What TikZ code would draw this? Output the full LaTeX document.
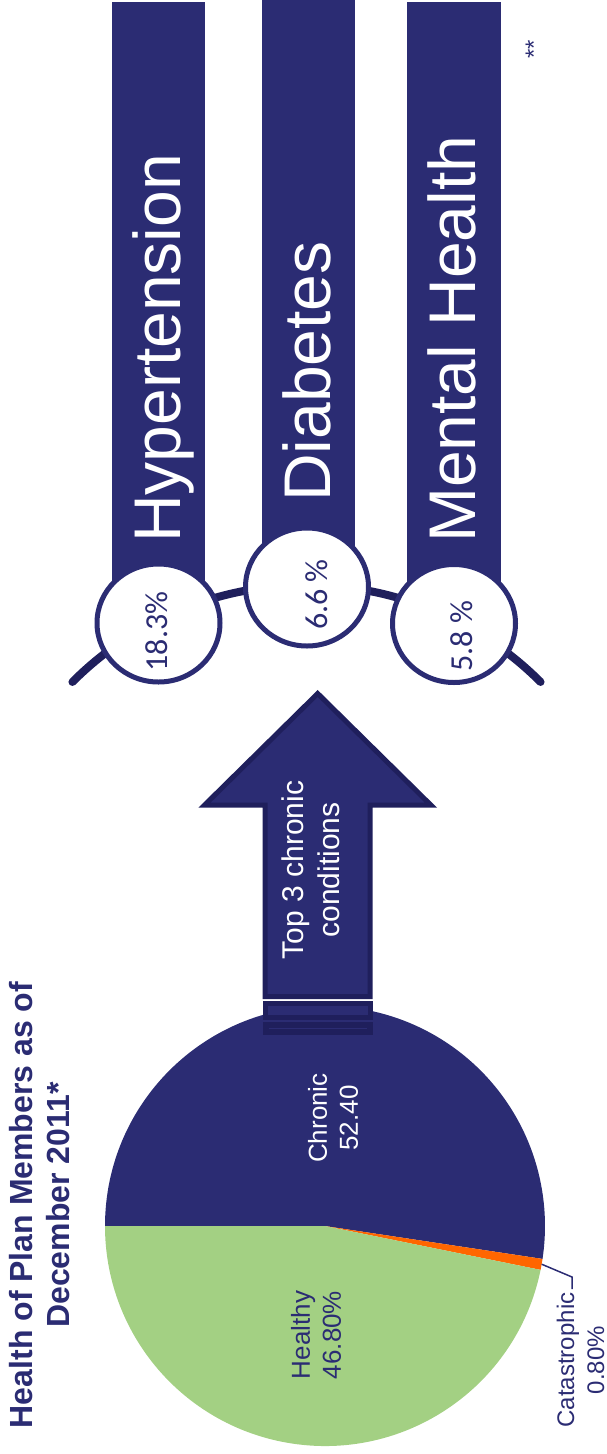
\documentclass[tikz,border=0pt]{standalone}
\usepackage{fontspec}
\setmainfont{Liberation Sans}
\newfontfamily\calib{Carlito}
\usetikzlibrary{shapes.geometric,calc}
\definecolor{navy}{RGB}{43,44,115}
\definecolor{navydark}{RGB}{31,31,92}
\definecolor{healthy}{RGB}{163,208,131}
\definecolor{catas}{RGB}{255,102,0}
\begin{document}
\begin{tikzpicture}[x=1pt,y=-1pt,
  condbar/.style={fill=navy},
  lens/.style={ellipse, draw=navy, line width=5pt, fill=white, minimum width=123pt, minimum height=118pt, inner sep=0pt},
  frame/.style={draw=navydark, line width=8pt, line cap=round},
  pct/.style={text=navy, rotate=90, anchor=base, inner sep=0pt, font=\calib\fontsize{32}{38}\selectfont},
  cond/.style={text=white, rotate=90, anchor=base west, inner sep=0pt, font=\fontsize{66}{79}\selectfont},
  pielabel/.style={rotate=90, align=center, inner sep=0pt, anchor=center},
  arrowbox/.style={fill=navy, draw=navydark, line width=5pt, line join=miter},
  stackbox/.style={fill=navy, draw=navydark, line join=miter}
]
\useasboundingbox (0,0) rectangle (607,1454);

% ---- title
\node[pielabel, text=navy, font=\bfseries\fontsize{32}{37}\selectfont] (title) at (40,1205)
  {Health of Plan Members as of\\December 2011*};

% ---- pie
\coordinate (pc) at (325,1226);
\fill[navy] (pc) -- ++(180:220) arc[start angle=180, end angle=368.6, radius=220] -- cycle;
\fill[catas] (pc) -- ++(8.6:220) arc[start angle=8.6, end angle=11.5, radius=220] -- cycle;
\fill[healthy] (pc) -- ++(11.5:220) arc[start angle=11.5, end angle=180, radius=220] -- cycle;

\node[pielabel, text=white, font=\fontsize{26}{31}\selectfont] (chronic) at (333,1118) {Chronic\\52.40};
\node[pielabel, text=navy, font=\fontsize{26}{31}\selectfont] (healthyl) at (316,1335) {Healthy\\46.80\%};
\node[pielabel, text=navy, font=\fontsize{24}{30}\selectfont] (catasl) at (580.5,1360) {Catastrophic\\0.80\%};
\coordinate (catpt) at ($(pc)+(10:220)$);
\coordinate (catbend) at (572,1277);
\coordinate (catend) at (572,1289);
\draw[navy, line width=1.5pt] (catpt) -- (catbend) -- (catend);

% ---- stacked base boxes
\draw[stackbox, line width=5pt] (265.2,1003.3) rectangle (370.2,1017.5);
\draw[stackbox, line width=6pt] (265.7,1024.7) rectangle (369.7,1032);

% ---- arrow
\draw[arrowbox] (317.7,693.5) -- (431,805.2) -- (370.2,805.2) -- (370.2,996.5)
  -- (265.2,996.5) -- (265.2,805.2) -- (204.4,805.2) -- cycle;
\node[pielabel, text=white, font=\fontsize{30}{36}\selectfont] (arrowtxt) at (311,870) {Top 3 chronic\\conditions};

% ---- bars
\fill[condbar] (112,2) rectangle (205,623);
\fill[condbar] (262,0) rectangle (355,587);
\fill[condbar] (407,2) rectangle (501,623);
\node[cond] (hyp) at (180,543) {Hypertension};
\node[cond] (dia) at (330,502) {Diabetes};
\node[cond] (men) at (475,543) {Mental Health};

% ---- glasses frame
\coordinate (ac) at (306.5,916);
\coordinate (frameL) at ($(ac)+(225:331)$);
\draw[frame] (frameL) arc[start angle=225, end angle=315, radius=331];

% ---- lenses
\node[lens] (lensA) at (158.5,623) {};
\node[lens] (lensB) at (307,587) {};
\node[lens] (lensC) at (454,623.5) {};
\node[pct] (pA) at (167,631.5) {18.3\%};
\node[pct] (pB) at (327,594.5) {6.6 \%};
\node[pct] (pC) at (472,636) {5.8 \%};

% ---- footnote marker
\node[rotate=90, anchor=base, inner sep=0pt, text=navy, font=\fontsize{24}{28}\selectfont] (stars) at (542,49) {**};
\end{tikzpicture}
\end{document}
